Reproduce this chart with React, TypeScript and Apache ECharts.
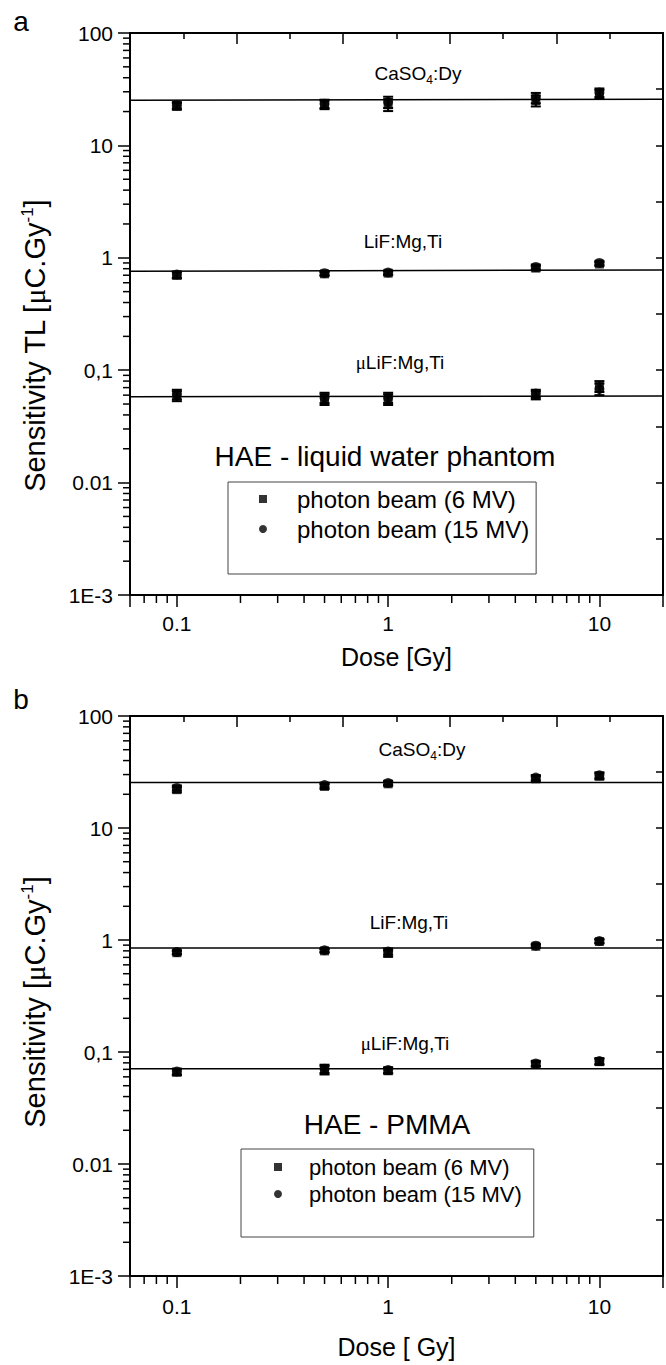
import React, { useEffect, useRef } from 'react';
import * as echarts from 'echarts';

// ---------- data ----------
const doses = [0.1, 0.5, 1, 5, 10];
const beamNames = ['photon beam (6 MV)', 'photon beam (15 MV)'];

// Panel a: HAE - liquid water phantom
const aCaSO4_6MV = [22.3, 23.0, 23.0, 25.0, 28.5];
const aCaSO4_15MV = [22.8, 23.5, 24.3, 26.5, 29.5];
const aCaSO4_err = [1.5, 2.0, 2.8, 2.8, 2.6];
const aLiF_6MV = [0.7, 0.72, 0.73, 0.81, 0.88];
const aLiF_15MV = [0.71, 0.73, 0.74, 0.83, 0.9];
const aLiF_err = [0.045, 0.03, 0.03, 0.04, 0.035];
const aMuLiF_6MV = [0.059, 0.055, 0.055, 0.06, 0.072];
const aMuLiF_15MV = [0.061, 0.057, 0.057, 0.062, 0.068];
const aMuLiF_err = [0.006, 0.006, 0.006, 0.005, 0.008];
const aFitCaSO4 = [25.2, 25.8];
const aFitLiF = [0.76, 0.78];
const aFitMuLiF = [0.058, 0.059];

// Panel b: HAE - PMMA
const bCaSO4_6MV = [22.0, 23.5, 24.8, 27.5, 29.0];
const bCaSO4_15MV = [22.8, 24.2, 25.2, 28.2, 29.6];
const bCaSO4_err = [1.2, 1.2, 1.0, 1.5, 1.8];
const bLiF_6MV = [0.77, 0.8, 0.76, 0.88, 0.97];
const bLiF_15MV = [0.78, 0.81, 0.79, 0.89, 0.98];
const bLiF_err = [0.03, 0.03, 0.05, 0.03, 0.04];
const bMuLiF_6MV = [0.066, 0.069, 0.068, 0.078, 0.082];
const bMuLiF_15MV = [0.067, 0.071, 0.069, 0.079, 0.083];
const bMuLiF_err = [0.004, 0.006, 0.004, 0.004, 0.005];
const bFitCaSO4 = [25.5, 25.5];
const bFitLiF = [0.85, 0.85];
const bFitMuLiF = [0.071, 0.071];

// axes
const xRange = [0.06, 20];
const yRange = [0.001, 100];
const xTickValues = [0.1, 1, 10];
const xTickLabels = ['0.1', '1', '10'];
const yTickValues = [0.001, 0.01, 0.1, 1, 10, 100];
const yTickLabels = ['1E-3', '0.01', '0,1', '1', '10', '100'];
const minorMultipliers = [2, 3, 4, 5, 6, 7, 8, 9];
const decades = [0.001, 0.01, 0.1, 1, 10];

const FONT = 'Liberation Sans, Arial, sans-serif';
const SERIF = 'Liberation Serif, serif';
const BLACK = '#000';

function nearestLabel(v: number, values: number[], labels: string[]) {
  let best = -1;
  let bd = Infinity;
  values.forEach((t, i) => {
    const d = Math.abs(Math.log10(v) - Math.log10(t));
    if (d < bd) { bd = d; best = i; }
  });
  return bd < 1e-4 ? labels[best] : '';
}

function minorTickData() {
  const out: number[][] = [];
  decades.forEach((d) => {
    minorMultipliers.forEach((m) => {
      const v = d * m;
      if (v > xRange[0] * 1.001 && v < xRange[1] * 0.999) out.push([v, yRange[0], 0]);
      if (v > yRange[0] * 1.001 && v < yRange[1] * 0.999) out.push([xRange[0], v, 1]);
    });
  });
  return out;
}

const lineStyle = { color: BLACK, width: 2 };
const tickStyle = { color: BLACK, width: 1.5 };

function panel(g: number, cfg: any) {
  const xi = g * 2;
  const yi = g * 2;
  const xAxes = [
    {
      type: 'log', gridIndex: g, logBase: 10, min: xRange[0], max: xRange[1], position: 'bottom',
      axisLine: { show: true, onZero: false, lineStyle },
      axisTick: { show: true, inside: false, length: 12, lineStyle: tickStyle },
      minorTick: { show: false }, splitLine: { show: false },
      axisLabel: {
        show: true, margin: cfg.xLabelMargin, color: BLACK, fontSize: 21, fontFamily: FONT,
        formatter: (v: number) => nearestLabel(v, xTickValues, xTickLabels), hideOverlap: false,
      },
      name: cfg.xName, nameLocation: 'middle', nameGap: cfg.xNameGap,
      nameTextStyle: { color: BLACK, fontSize: 25, fontFamily: FONT },
    },
    {
      type: 'value', gridIndex: g, position: 'top', min: 0, max: 5, interval: 1,
      axisLine: { show: true, onZero: false, lineStyle },
      axisTick: { show: true, inside: true, length: 11, lineStyle: tickStyle },
      minorTick: { show: true, splitNumber: 2, length: 6, lineStyle: tickStyle },
      axisLabel: { show: false }, splitLine: { show: false }, minorSplitLine: { show: false },
    },
  ];
  const yAxes = [
    {
      type: 'log', gridIndex: g, logBase: 10, min: yRange[0], max: yRange[1], position: 'left',
      axisLine: { show: true, onZero: false, lineStyle },
      axisTick: { show: true, inside: false, length: 12, lineStyle: tickStyle },
      minorTick: { show: false }, splitLine: { show: false },
      axisLabel: {
        show: true, margin: 17, color: BLACK, fontSize: 21, fontFamily: FONT,
        formatter: (v: number) => nearestLabel(v, yTickValues, yTickLabels), hideOverlap: false,
      },
    },
    {
      type: 'value', gridIndex: g, position: 'right', min: 0, max: 10, interval: 1,
      axisLine: { show: true, onZero: false, lineStyle },
      axisTick: { show: true, inside: true, length: 7, lineStyle: tickStyle },
      axisLabel: { show: false }, splitLine: { show: false },
    },
  ];

  const fits = [cfg.fitCaSO4, cfg.fitLiF, cfg.fitMuLiF].map((f: number[], i: number) => ({
    type: 'line', name: 'fit ' + i, xAxisIndex: xi, yAxisIndex: yi, silent: true,
    symbol: 'none', showSymbol: false, z: 2,
    lineStyle: { color: BLACK, width: 1.5 },
    data: [[xRange[0], f[0]], [xRange[1], f[1]]],
  }));

  const b6 = [cfg.c6, cfg.l6, cfg.m6];
  const b15 = [cfg.c15, cfg.l15, cfg.m15];
  const errs = [cfg.cErr, cfg.lErr, cfg.mErr];

  const pts = (arrs: number[][]) => {
    const out: number[][] = [];
    arrs.forEach((vals) => vals.forEach((v, i) => out.push([doses[i], v])));
    return out;
  };
  const errData: number[][] = [];
  [b6, b15].forEach((set) => set.forEach((vals: number[], k: number) => vals.forEach((v, i) => errData.push([doses[i], v, errs[k][i]]))));

  const errorBars = {
    type: 'custom', name: 'error bars', xAxisIndex: xi, yAxisIndex: yi, silent: true, z: 3,
    data: errData,
    renderItem: (params: any, api: any) => {
      const x = api.value(0);
      const v = api.value(1);
      const e = api.value(2);
      const top = api.coord([x, v + e]);
      const bot = api.coord([x, v - e]);
      const hw = 5;
      const st = { stroke: BLACK, lineWidth: 2 };
      return {
        type: 'group',
        children: [
          { type: 'line', shape: { x1: top[0], y1: top[1], x2: bot[0], y2: bot[1] }, style: st },
          { type: 'line', shape: { x1: top[0] - hw, y1: top[1], x2: top[0] + hw, y2: top[1] }, style: st },
          { type: 'line', shape: { x1: bot[0] - hw, y1: bot[1], x2: bot[0] + hw, y2: bot[1] }, style: st },
        ],
      };
    },
  };

  const scatter6 = {
    type: 'scatter', name: beamNames[0], xAxisIndex: xi, yAxisIndex: yi, z: 4,
    symbol: 'rect', symbolSize: 9, itemStyle: { color: BLACK }, data: pts(b6),
  };
  const scatter15 = {
    type: 'scatter', name: beamNames[1], xAxisIndex: xi, yAxisIndex: yi, z: 4,
    symbol: 'circle', symbolSize: 10, itemStyle: { color: BLACK }, data: pts(b15),
  };

  const minor = {
    type: 'custom', name: 'minor ticks', xAxisIndex: xi, yAxisIndex: yi, silent: true, clip: false, z: 5,
    data: minorTickData(),
    renderItem: (params: any, api: any) => {
      const kind = api.value(2);
      const p = api.coord([api.value(0), api.value(1)]);
      const st = { stroke: BLACK, lineWidth: 1.5 };
      if (kind === 0) {
        return { type: 'line', shape: { x1: p[0], y1: p[1], x2: p[0], y2: p[1] + 8 }, style: st };
      }
      return { type: 'line', shape: { x1: p[0] - 7, y1: p[1], x2: p[0], y2: p[1] }, style: st };
    },
  };

  return { xAxes, yAxes, series: [...fits, errorBars, scatter6, scatter15, minor] };
}

function matLabel(x: number, y: number, kind: string) {
  const rich = {
    t: { fontSize: 19, fontFamily: FONT, fill: BLACK, lineHeight: 26 },
    mu: { fontSize: 19, fontFamily: SERIF, fill: BLACK, lineHeight: 26 },
    sub: { fontSize: 12, fontFamily: FONT, fill: BLACK, lineHeight: 12, verticalAlign: 'bottom' },
  };
  const text = kind === 'CaSO4'
    ? '{t|CaSO}{sub|4}{t|:Dy}'
    : kind === 'LiF' ? '{t|LiF:Mg,Ti}' : '{mu|μ}{t|LiF:Mg,Ti}';
  return { type: 'text', x, y, style: { text, rich, align: 'center', verticalAlign: 'middle' } };
}

function yTitle(x: number, y: number, text: string) {
  return {
    type: 'text', x, y, rotation: Math.PI / 2,
    style: {
      text, align: 'center', verticalAlign: 'middle',
      rich: {
        t: { fontSize: 29, fontFamily: FONT, fill: BLACK, lineHeight: 33 },
        mu: { fontSize: 29, fontFamily: SERIF, fill: BLACK, lineHeight: 33 },
        sup: { fontSize: 17, fontFamily: FONT, fill: BLACK, lineHeight: 17, verticalAlign: 'top' },
      },
    },
  };
}

function plainText(x: number, y: number, text: string, size: number) {
  return {
    type: 'text', x, y,
    style: { text, fontSize: size, fontFamily: FONT, fill: BLACK, align: 'center', verticalAlign: 'middle' },
  };
}

export default function App() {
  const ref = useRef<HTMLDivElement>(null);
  useEffect(() => {
    document.body.style.margin = '0';
    if (!ref.current) return;
    const chart = echarts.init(ref.current, undefined, { renderer: 'svg' });

    const pa = panel(0, {
      xName: 'Dose [Gy]', xNameGap: 49, xLabelMargin: 18,
      c6: aCaSO4_6MV, c15: aCaSO4_15MV, cErr: aCaSO4_err,
      l6: aLiF_6MV, l15: aLiF_15MV, lErr: aLiF_err,
      m6: aMuLiF_6MV, m15: aMuLiF_15MV, mErr: aMuLiF_err,
      fitCaSO4: aFitCaSO4, fitLiF: aFitLiF, fitMuLiF: aFitMuLiF,
    });
    const pb = panel(1, {
      xName: 'Dose [ Gy]', xNameGap: 58, xLabelMargin: 20,
      c6: bCaSO4_6MV, c15: bCaSO4_15MV, cErr: bCaSO4_err,
      l6: bLiF_6MV, l15: bLiF_15MV, lErr: bLiF_err,
      m6: bMuLiF_6MV, m15: bMuLiF_15MV, mErr: bMuLiF_err,
      fitCaSO4: bFitCaSO4, fitLiF: bFitLiF, fitMuLiF: bFitMuLiF,
    });

    const legendBase = {
      orient: 'vertical', selectedMode: false, borderColor: '#444', borderWidth: 1,
      itemWidth: 8, itemHeight: 8,
      data: [{ name: beamNames[0], icon: 'rect' }, { name: beamNames[1], icon: 'circle' }],
    };

    chart.setOption({
      animation: false,
      backgroundColor: '#fff',
      grid: [
        { left: 130, top: 33, width: 534, height: 562, containLabel: false },
        { left: 130, top: 716, width: 534, height: 560, containLabel: false },
      ],
      xAxis: [...pa.xAxes, ...pb.xAxes],
      yAxis: [...pa.yAxes, ...pb.yAxes],
      legend: [
        {
          ...legendBase, left: 228, top: 482, padding: [5, 7, 33, 31], itemGap: 6,
          textStyle: { color: BLACK, fontSize: 24, fontFamily: FONT, lineHeight: 24, padding: [0, 0, 0, 25] },
        },
        {
          ...legendBase, left: 241, top: 1149, padding: [6, 12, 31, 33], itemGap: 3,
          textStyle: { color: BLACK, fontSize: 22, fontFamily: FONT, lineHeight: 24, padding: [0, 0, 0, 22] },
        },
      ],
      graphic: [
        plainText(21, 21, 'a', 28),
        plainText(21, 699, 'b', 28),
        matLabel(418, 73, 'CaSO4'),
        matLabel(403, 241, 'LiF'),
        matLabel(400, 362, 'muLiF'),
        matLabel(422, 749, 'CaSO4'),
        matLabel(409, 922, 'LiF'),
        matLabel(405, 1043, 'muLiF'),
        plainText(385, 456, 'HAE - liquid water phantom', 28),
        plainText(387, 1124, 'HAE - PMMA', 28),
        yTitle(35, 346, '{t|Sensitivity TL [}{mu|μ}{t|C.Gy}{sup|-1}{t|]}'),
        yTitle(35, 1002, '{t|Sensitivity [}{mu|μ}{t|C.Gy}{sup|-1}{t|]}'),
      ],
      series: [...pa.series, ...pb.series],
    });
    return () => chart.dispose();
  }, []);
  return <div ref={ref} style={{ width: 666, height: 1365 }} />;
}
